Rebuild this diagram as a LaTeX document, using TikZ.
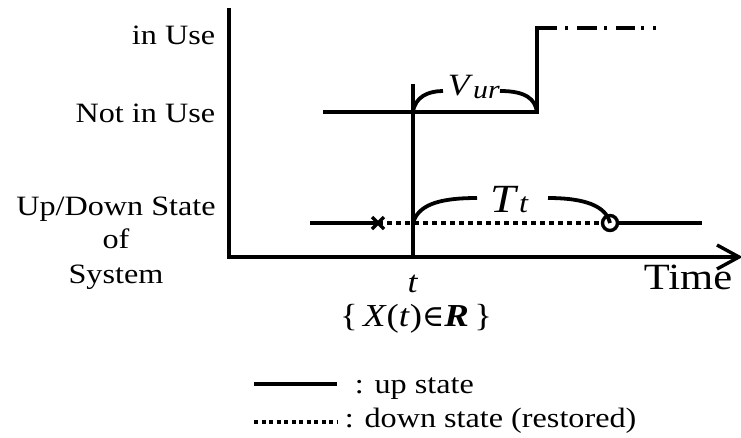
\documentclass[tikz,border=0pt]{standalone}
\usepackage{fontspec}
\setmainfont{Liberation Serif}[FakeStretch=1.15]
\newfontfamily\symfnt{DejaVu Serif}
\usetikzlibrary{arrows.meta}
\begin{document}
\begin{tikzpicture}[x=1pt,y=-1pt,line width=3.8pt,
  lab/.style={font=\fontsize{28}{34}\selectfont,inner sep=0pt},
  big/.style={font=\fontsize{32}{36}\selectfont,inner sep=0pt},
  dotline/.style={dash pattern=on 5pt off 4pt},
  pt/.style={inner sep=0pt,minimum size=0pt}]
\useasboundingbox (0,0) rectangle (741,437);
% axes
\coordinate (ytop) at (229,8);
\coordinate (orig) at (229,257);
\coordinate (xend) at (739,257);
\draw[line join=miter] (ytop) -- (orig) -- (xend);
\draw[line width=3.4pt,line join=miter] (xend) ++(-22,-12) -- (xend) -- ++(-22,12);
% labels on y axis
\node[lab,anchor=base east] (inuse) at (217,44) {in Use};
\node[lab,anchor=base east] (notinuse) at (217,122) {Not in Use};
\node[lab,anchor=base] (ud1) at (116,215) {Up/Down State};
\node[lab,anchor=base] (ud2) at (116,248) {of};
\node[lab,anchor=base] (ud3) at (116,283) {System};
% time t vertical
\coordinate (ttop) at (413,84);
\coordinate (tbot) at (413,257);
\draw (ttop) -- (tbot);
% use state
\coordinate (u0) at (323,112);
\coordinate (u1) at (413,112);
\coordinate (u2) at (537,112);
\coordinate (u3) at (537,28);
\coordinate (u4) at (660,28);
\draw[line join=miter] (u0) -- (u2) -- (u3) -- (557,28);
\draw[dash pattern=on 3pt off 9pt on 20pt off 7pt on 3pt off 9pt on 19pt off 6pt on 3pt off 9pt on 3pt off 20pt] (565,28) -- (u4);
% Vur brace
\coordinate (va) at (443,91);
\coordinate (vb) at (500,91);
\draw (u1) .. controls (415,97) and (428,91) .. (va);
\draw (vb) .. controls (526,91) and (535,99) .. (u2);
\node[inner sep=0pt,anchor=base west] (vur) at (446,95) {\fontsize{31}{34}\selectfont\textit{V}\raisebox{-3pt}{\fontsize{26}{28}\selectfont\textit{ur}}};
% up/down state
\coordinate (d0) at (310,223);
\node[pt] (fail) at (378,223) {};
\node[circle,draw,line width=3.4pt,minimum size=15pt,inner sep=0pt] (rest) at (610,223) {};
\coordinate (d1) at (413,223);
\coordinate (d2) at (702,223);
\draw (d0) -- (fail.center);
\draw[dotline] (fail.center) -- (rest.west);
\draw (rest.east) -- (d2);
\draw[line width=3.2pt] (fail.center) ++(-6,-6) -- ++(12,12) (fail.center) ++(-6,6) -- ++(12,-12);
% Tt brace
\coordinate (ta) at (477,198);
\coordinate (tb) at (548,198);
\draw (d1) .. controls (418,206) and (436,198) .. (ta);
\draw (tb) .. controls (585,198) and (606,206) .. (rest.center);
\node[inner sep=0pt,anchor=base west] (tt) at (489,212) {\fontsize{40}{42}\selectfont\textit{T}\fontsize{28}{30}\selectfont\textit{t}};
% axis labels
\node[lab,anchor=base] (tlab) at (413,292) {\fontsize{31}{32}\selectfont\textit{t}};
\node[big,anchor=base] (xset) at (416,326) {\{\,\textit{X}(\textit{t}){\symfnt\fontsize{30}{32}\selectfont ∈}\textbf{\textit{R}}\,\}};
\node[inner sep=0pt,anchor=base west,font=\fontsize{37}{40}\selectfont] (time) at (642,289) {Time};
% legend
\coordinate (l1a) at (254,384);
\coordinate (l1b) at (337,384);
\coordinate (l2a) at (254,422);
\coordinate (l2b) at (337,422);
\draw (l1a) -- (l1b);
\draw[line width=3.4pt,dash pattern=on 4pt off 3.5pt] (l2a) -- (l2b);
\node[lab,anchor=base west] (leg1) at (353,393) {: up state};
\node[lab,anchor=base west] (leg2) at (343,427) {: down state (restored)};
\end{tikzpicture}
\end{document}
